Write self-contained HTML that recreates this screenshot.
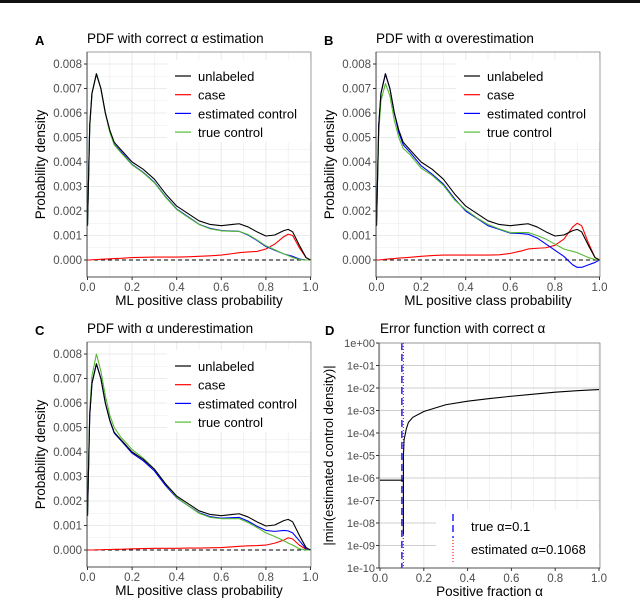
<!DOCTYPE html>
<html><head><meta charset="utf-8">
<style>
html,body{margin:0;padding:0;background:#fff;}
svg{display:block;font-family:"Liberation Sans",sans-serif;}
</style></head>
<body>
<svg id="chart" width="640" height="602" viewBox="0 0 640 602">
<rect x="0" y="0" width="640" height="3" fill="#111"/>
</svg>
<script>
// ---- data ----
const xGrid = [0,0.01,0.02,0.04,0.06,0.08,0.1,0.12,0.15,0.2,0.25,0.3,0.35,0.4,0.45,0.5,0.55,0.6,0.65,0.68,0.72,0.76,0.8,0.84,0.88,0.9,0.92,0.95,0.98,1];
const unlabeled = [1.4,5.5,6.8,7.6,7.0,6.0,5.3,4.8,4.5,4.0,3.7,3.3,2.7,2.2,1.9,1.6,1.45,1.4,1.45,1.48,1.35,1.15,0.98,1.02,1.2,1.25,1.15,0.6,0.1,0];
const caseA = [0,0,0.01,0.02,0.03,0.04,0.05,0.06,0.07,0.1,0.11,0.12,0.12,0.12,0.13,0.15,0.17,0.2,0.26,0.3,0.33,0.35,0.45,0.65,0.95,1.05,1.0,0.5,0.1,0];
const estA = [1.4,5.5,6.8,7.6,7.0,6.0,5.25,4.72,4.42,3.9,3.58,3.17,2.58,2.08,1.77,1.46,1.29,1.2,1.18,1.17,1.02,0.8,0.55,0.4,0.25,0.2,0.15,0.04,0,0];
const trueA = [1.4,5.4,6.8,7.6,7.0,6.0,5.2,4.7,4.38,3.88,3.56,3.15,2.56,2.06,1.75,1.45,1.27,1.19,1.17,1.17,1.04,0.82,0.58,0.42,0.25,0.18,0.1,0.02,0,0];
const caseB = [0,0,0.01,0.03,0.05,0.06,0.08,0.09,0.11,0.15,0.18,0.2,0.2,0.2,0.2,0.2,0.21,0.27,0.37,0.45,0.48,0.5,0.6,0.85,1.35,1.5,1.4,0.7,0.1,0];
const estB = [1.4,5.5,6.8,7.6,7.0,6.0,5.2,4.7,4.4,3.85,3.5,3.1,2.5,2.0,1.7,1.4,1.25,1.1,1.08,1.05,0.9,0.65,0.4,0.15,-0.2,-0.3,-0.3,-0.2,-0.1,0];
const trueB = [1.4,5.2,6.5,7.2,6.7,5.7,5.0,4.55,4.3,3.75,3.45,3.05,2.45,2.05,1.72,1.45,1.27,1.12,1.12,1.12,1.0,0.85,0.65,0.45,0.35,0.3,0.22,0.1,0.02,0];
const caseC = [0,0,0,0.01,0.01,0.02,0.02,0.03,0.03,0.05,0.06,0.07,0.07,0.07,0.08,0.08,0.09,0.1,0.13,0.15,0.17,0.18,0.2,0.28,0.4,0.5,0.45,0.2,0.03,0];
const estC = [1.4,5.5,6.8,7.6,7.0,6.0,5.28,4.77,4.47,3.95,3.64,3.23,2.63,2.13,1.82,1.52,1.36,1.3,1.32,1.33,1.18,0.97,0.8,0.76,0.8,0.78,0.7,0.38,0.05,0];
const trueC = [1.4,5.7,7.1,8.0,7.3,6.3,5.5,5.0,4.6,4.1,3.75,3.3,2.7,2.15,1.82,1.5,1.33,1.28,1.28,1.28,1.12,0.92,0.7,0.55,0.38,0.28,0.2,0.05,0,0];
const yTicksPdf = ["0.000","0.001","0.002","0.003","0.004","0.005","0.006","0.007","0.008"];
const xTicks = ["0.0","0.2","0.4","0.6","0.8","1.0"];
const legendNames = ["unlabeled","case","estimated control","true control"];
const legendColors = ["#000000","#ff0000","#0000ff","#55bb33"];
const alphaX = [0,0.1068,0.1068,0.107,0.11,0.12,0.13,0.15,0.2,0.3,0.4,0.5,0.6,0.7,0.8,0.9,1.0];
const alphaErr = [8e-7,8e-7,3e-9,1e-5,5e-5,1.5e-4,3e-4,5e-4,9e-4,1.8e-3,2.6e-3,3.4e-3,4.3e-3,5.3e-3,6.5e-3,7.6e-3,8.5e-3];
const yTicksLog = ["1e-10","1e-09","1e-08","1e-07","1e-06","1e-05","1e-04","1e-03","1e-02","1e-01","1e+00"];
const trueAlpha = 0.1, estAlpha = 0.1068;

const NS="http://www.w3.org/2000/svg";
const svg=document.getElementById('chart');
function mk(tag,attrs,parent){const e=document.createElementNS(NS,tag);for(const k in attrs)e.setAttribute(k,attrs[k]);(parent||svg).appendChild(e);return e;}
function txt(s,attrs,parent){const e=mk('text',attrs,parent);e.textContent=s;return e;}

function pdfPanel(letter,title,ox,oy,series){
  const L=ox+87,R=ox+311,T=oy+52,B=oy+277;
  const sx=v=>L+ (R-L)*v/1.0*0.9955+0.5;
  const y0=oy+260,y8=oy+64;
  const sy=v=>y0-(y0-y8)*v/8;
  const g=mk('g',{});
  
  
  const bg=mk('rect',{x:L,y:T,width:R-L,height:B-T,fill:'#fff'},g);
  
  for(let i=0;i<=10;i++){const v=i/10;mk('line',{x1:sx(v),x2:sx(v),y1:T,y2:B,stroke:'#ebebeb','stroke-width':i%2?0.6:1.1},g);}
  for(let i=0;i<=16;i++){const v=i/2;mk('line',{x1:L,x2:R,y1:sy(v),y2:sy(v),stroke:'#ebebeb','stroke-width':i%2?0.6:1.1},g);}
  const zl=mk('line',{x1:L,x2:R,y1:sy(0),y2:sy(0),stroke:'#000','stroke-dasharray':'4,3','stroke-width':1},g);
  
  const lb=mk('rect',{x:ox+167,y:oy+60,width:144,height:82,fill:'#fff'},g);
  
  const order=[1,2,3,0];
  order.forEach(si=>{
    const pts=xGrid.map((x,i)=>sx(x)+','+sy(series[si][i])).join(' ');
    const p=mk('polyline',{points:pts,fill:'none',stroke:legendColors[si],'stroke-width':1.1,'stroke-linejoin':'round'},g);
    
    
  });
  legendNames.forEach((n,i)=>{
    const yy=oy+76+i*18.7;
    mk('line',{x1:ox+175,x2:ox+191,y1:yy,y2:yy,stroke:legendColors[i],'stroke-width':1.2},g);
    const t=txt(n,{x:ox+198,y:yy+5,'font-size':13,fill:'#000'},g);
    
  });
  const fr=mk('rect',{x:L,y:T,width:R-L,height:B-T,fill:'none',stroke:'#888','stroke-width':0.8},g);
  
  mk('line',{x1:L,x2:L,y1:T,y2:B,stroke:'#333','stroke-width':0.8},g);
  mk('line',{x1:L,x2:R,y1:B,y2:B,stroke:'#333','stroke-width':0.8},g);
  yTicksPdf.forEach((s,i)=>{
    mk('line',{x1:L-3,x2:L,y1:sy(i),y2:sy(i),stroke:'#333'},g);
    const t=txt(s,{x:L-5,y:sy(i)+4,'font-size':11.5,fill:'#4d4d4d','text-anchor':'end'},g);
    
  });
  xTicks.forEach(s=>{const v=parseFloat(s);
    mk('line',{x1:sx(v),x2:sx(v),y1:B,y2:B+3,stroke:'#333'},g);
    const t=txt(s,{x:sx(v),y:B+14,'font-size':11.5,fill:'#4d4d4d','text-anchor':'middle'},g);
    
  });
  const xt=txt('ML positive class probability',{x:(L+R)/2,y:oy+305,'font-size':13.5,'text-anchor':'middle'},g);
  
  const yt=txt('Probability density',{x:0,y:0,'font-size':13.5,'text-anchor':'middle',transform:`translate(${ox+45},${(T+B)/2}) rotate(-90)`},g);
  
  const tt=txt(title,{x:L,y:oy+43,'font-size':13.5},g);
  
  const lt=txt(letter,{x:ox+35,y:oy+45,'font-size':13,'font-weight':'bold'},g);
  
}
pdfPanel('A','PDF with correct \u03b1 estimation',0,0,[unlabeled,caseA,estA,trueA]);
pdfPanel('B','PDF with \u03b1 overestimation',289,0,[unlabeled,caseB,estB,trueB]);
pdfPanel('C','PDF with \u03b1 underestimation',0,290,[unlabeled,caseC,estC,trueC]);

// Panel D
(function(){
  const L=379,R=600,T=343,B=568;
  const sx=v=>L+1+(R-L-2)*v;
  const sy=v=>B-(B-T)*(Math.log10(v)+10)/10;
  const g=mk('g',{});
  
  mk('rect',{x:L,y:T,width:R-L,height:B-T,fill:'#fff'},g);
  for(let i=0;i<=10;i++){const v=i/10;mk('line',{x1:sx(v),x2:sx(v),y1:T,y2:B,stroke:'#ebebeb','stroke-width':i%2?0.6:1.1},g);}
  yTicksLog.forEach(s=>{const v=parseFloat(s);mk('line',{x1:L,x2:R,y1:sy(v),y2:sy(v),stroke:'#cfcfcf','stroke-width':1.1},g);});
  const lb=mk('rect',{x:436,y:510,width:163,height:57,fill:'#fff'},g);
  
  const vt=mk('line',{x1:sx(trueAlpha),x2:sx(trueAlpha),y1:T,y2:B,stroke:'#0000ff','stroke-width':1.3,'stroke-dasharray':'7,4'},g);
  
  const ve=mk('line',{x1:sx(estAlpha),x2:sx(estAlpha),y1:T,y2:B,stroke:'#ff0000','stroke-width':1.1,'stroke-dasharray':'1,2'},g);
  
  const pts=alphaX.map((x,i)=>sx(x)+','+sy(alphaErr[i])).join(' ');
  const p=mk('polyline',{points:pts,fill:'none',stroke:'#000','stroke-width':1.1},g);
  
  mk('line',{x1:453,x2:453,y1:514,y2:538,stroke:'#0000ff','stroke-width':1.3,'stroke-dasharray':'7,4'},g);
  mk('line',{x1:453,x2:453,y1:540,y2:562,stroke:'#ff0000','stroke-width':1.1,'stroke-dasharray':'1,2'},g);
  const l1=txt('true \u03b1=0.1',{x:471,y:531,'font-size':13},g);
  
  const l2=txt('estimated \u03b1=0.1068',{x:471,y:554,'font-size':13},g);
  
  mk('rect',{x:L,y:T,width:R-L,height:B-T,fill:'none',stroke:'#888','stroke-width':0.8},g);
  mk('line',{x1:L,x2:L,y1:T,y2:B,stroke:'#333','stroke-width':0.8},g);
  mk('line',{x1:L,x2:R,y1:B,y2:B,stroke:'#333','stroke-width':0.8},g);
  yTicksLog.forEach(s=>{const v=parseFloat(s);
    mk('line',{x1:L-3,x2:L,y1:sy(v),y2:sy(v),stroke:'#333'},g);
    const t=txt(s,{x:L-4,y:sy(v)+4,'font-size':11,fill:'#4d4d4d','text-anchor':'end'},g);
    
  });
  xTicks.forEach(s=>{const v=parseFloat(s);
    mk('line',{x1:sx(v),x2:sx(v),y1:B,y2:B+3,stroke:'#333'},g);
    const t=txt(s,{x:sx(v),y:B+14,'font-size':11.5,fill:'#4d4d4d','text-anchor':'middle'},g);
    
  });
  const xt=txt('Positive fraction \u03b1',{x:(L+R)/2,y:596,'font-size':13.5,'text-anchor':'middle'},g);
  
  const yt=txt('|min(estimated control density)|',{x:0,y:0,'font-size':13,'text-anchor':'middle',transform:`translate(333,${(T+B)/2}) rotate(-90)`},g);
  
  const tt=txt('Error function with correct \u03b1',{x:380,y:333,'font-size':13.5},g);
  
  const lt=txt('D',{x:325,y:335,'font-size':13,'font-weight':'bold'},g);
  
})();
</script>
</body></html>
